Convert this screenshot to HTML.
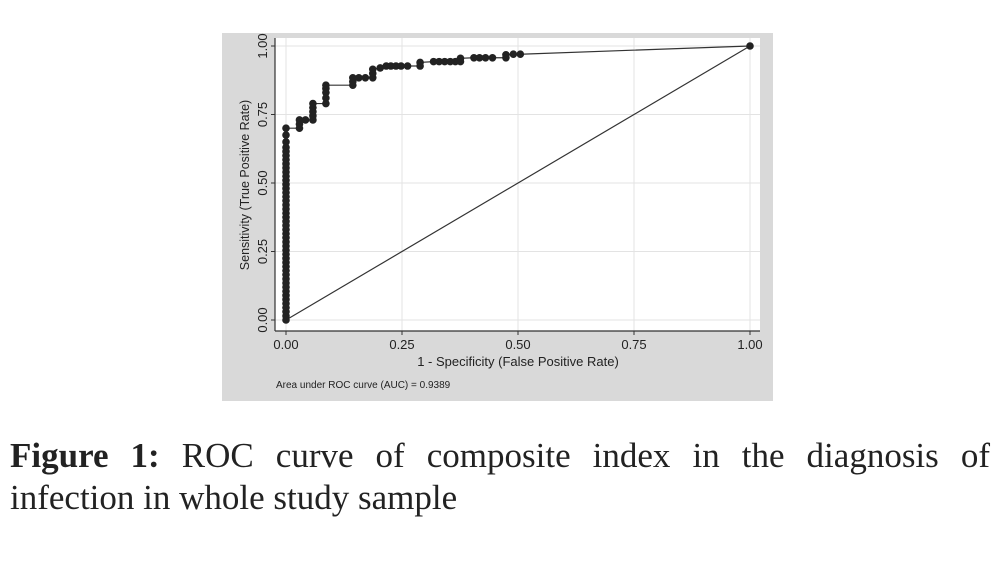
<!DOCTYPE html>
<html><head><meta charset="utf-8"><style>
body{margin:0;width:997px;height:563px;background:#fff;position:relative;overflow:hidden;font-family:"Liberation Sans",sans-serif}
#cap{position:absolute;left:10px;top:435px;width:980px;font-family:"Liberation Serif",serif;font-size:35px;line-height:42px;color:#222}
#cap .l1{display:block;text-align:justify;text-align-last:justify;white-space:nowrap}
#cap b{font-weight:bold}
</style></head><body>
<svg width="997" height="420" style="position:absolute;left:0;top:0">
<rect x="222" y="33" width="551" height="368" fill="#d9d9d9"/>
<rect x="275" y="38" width="485" height="293" fill="#fff"/>
<g id="grid"></g>
<line x1="275" y1="38" x2="275" y2="331" stroke="#333" stroke-width="1.2"/>
<line x1="275" y1="331" x2="760" y2="331" stroke="#333" stroke-width="1.2"/>
<g id="ticks" font-size="13" fill="#222"></g>
<text x="518" y="366" text-anchor="middle" font-size="13" fill="#222">1 - Specificity (False Positive Rate)</text>
<text transform="translate(249,185) rotate(-90)" text-anchor="middle" font-size="12.5" fill="#222">Sensitivity (True Positive Rate)</text>
<text x="276" y="388" font-size="10" fill="#222">Area under ROC curve (AUC) = 0.9389</text>
<g id="marks"></g>
</svg>
<div id="cap"><span class="l1"><b>Figure 1:</b> ROC curve of composite index in the diagnosis of</span>infection in whole study sample</div>
<script>
const tickVals=[0,0.25,0.5,0.75,1];
const tickLabels=["0.00","0.25","0.50","0.75","1.00"];
const fpr=[0,0,0,0,0,0,0,0,0,0,0,0,0,0,0,0,0,0,0,0,0,0,0,0,0,0,0,0,0,0,0,0,0,0,0,0,0,0,0,0,0,0,0,0,0,0,0.029,0.029,0.029,0.042,0.058,0.058,0.058,0.058,0.058,0.086,0.086,0.086,0.086,0.086,0.144,0.144,0.144,0.157,0.171,0.187,0.187,0.187,0.203,0.216,0.226,0.237,0.248,0.262,0.289,0.289,0.318,0.33,0.342,0.354,0.365,0.376,0.376,0.405,0.417,0.43,0.445,0.474,0.474,0.49,0.505,1];
const tpr=[0,0.015,0.03,0.045,0.06,0.075,0.09,0.105,0.12,0.135,0.15,0.165,0.18,0.195,0.21,0.225,0.24,0.255,0.27,0.285,0.30,0.315,0.33,0.345,0.36,0.375,0.39,0.405,0.42,0.435,0.45,0.465,0.48,0.495,0.51,0.525,0.54,0.555,0.57,0.585,0.60,0.615,0.63,0.65,0.675,0.70,0.70,0.715,0.73,0.73,0.73,0.745,0.76,0.775,0.79,0.79,0.81,0.83,0.845,0.857,0.857,0.87,0.884,0.884,0.884,0.884,0.9,0.915,0.92,0.927,0.927,0.927,0.927,0.927,0.927,0.94,0.943,0.943,0.943,0.943,0.943,0.943,0.955,0.957,0.957,0.957,0.957,0.957,0.968,0.97,0.97,1];
const X=v=>286+v*464, Y=v=>320-v*274;
const NS="http://www.w3.org/2000/svg";
const grid=document.getElementById('grid'),ticks=document.getElementById('ticks'),marks=document.getElementById('marks');
tickVals.forEach((v,i)=>{
 let g=document.createElementNS(NS,'line');g.setAttribute('x1',X(v));g.setAttribute('x2',X(v));g.setAttribute('y1',38);g.setAttribute('y2',331);g.setAttribute('stroke','#e3e3e3');
 
 grid.appendChild(g);
 let h=document.createElementNS(NS,'line');h.setAttribute('y1',Y(v));h.setAttribute('y2',Y(v));h.setAttribute('x1',275);h.setAttribute('x2',760);h.setAttribute('stroke','#e3e3e3');
 
 grid.appendChild(h);
 let tx=document.createElementNS(NS,'text');tx.setAttribute('x',X(v));tx.setAttribute('y',349);tx.setAttribute('text-anchor','middle');tx.textContent=tickLabels[i];
 
 ticks.appendChild(tx);
 let ty=document.createElementNS(NS,'text');ty.setAttribute('transform','translate(267,'+Y(v)+') rotate(-90)');ty.setAttribute('text-anchor','middle');ty.textContent=tickLabels[i];
 
 ticks.appendChild(ty);
 let tm=document.createElementNS(NS,'line');tm.setAttribute('x1',X(v));tm.setAttribute('x2',X(v));tm.setAttribute('y1',331);tm.setAttribute('y2',335);tm.setAttribute('stroke','#333');
 
 ticks.appendChild(tm);
 let tn=document.createElementNS(NS,'line');tn.setAttribute('y1',Y(v));tn.setAttribute('y2',Y(v));tn.setAttribute('x1',271);tn.setAttribute('x2',275);tn.setAttribute('stroke','#333');
 
 ticks.appendChild(tn);
});
let ref=document.createElementNS(NS,'line');ref.setAttribute('x1',X(0));ref.setAttribute('y1',Y(0));ref.setAttribute('x2',X(1));ref.setAttribute('y2',Y(1));ref.setAttribute('stroke','#333');ref.setAttribute('stroke-width','1.2');

marks.appendChild(ref);
let pts=fpr.map((f,i)=>X(f)+','+Y(tpr[i])).join(' ');
let pl=document.createElementNS(NS,'polyline');pl.setAttribute('points',pts);pl.setAttribute('fill','none');pl.setAttribute('stroke','#333');pl.setAttribute('stroke-width','1.2');

marks.appendChild(pl);
fpr.forEach((f,i)=>{let c=document.createElementNS(NS,'circle');c.setAttribute('cx',X(f));c.setAttribute('cy',Y(tpr[i]));c.setAttribute('r',3.8);c.setAttribute('fill','#222');
 
 marks.appendChild(c);});
</script>
</body></html>
